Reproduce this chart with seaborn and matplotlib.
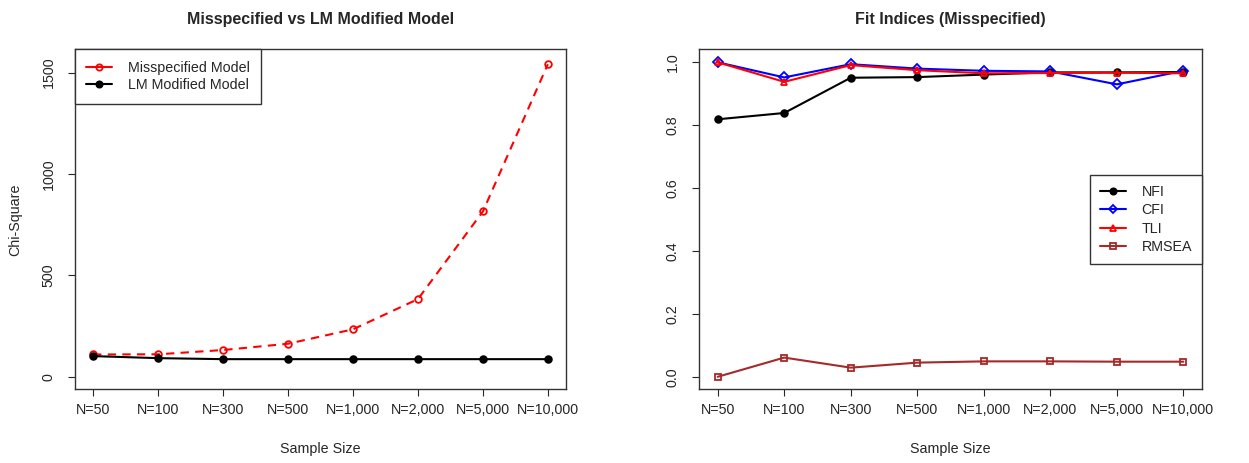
import pandas as pd
import seaborn as sns
import matplotlib
matplotlib.use("Agg")
import matplotlib.pyplot as plt

# sample sizes (categorical x axis)
sample_labels = ["N=50", "N=100", "N=300", "N=500", "N=1,000", "N=2,000", "N=5,000", "N=10,000"]

# chi-square values
chisq_misspecified = [110, 111, 132, 163, 234, 383, 815, 1541]
chisq_lm_modified = [102, 92, 87, 87, 87, 87, 87, 87]

# fit indices for the misspecified model
nfi = [0.818, 0.838, 0.950, 0.952, 0.960, 0.967, 0.967, 0.968]
cfi = [0.999, 0.951, 0.993, 0.979, 0.972, 0.970, 0.929, 0.972]
tli = [0.999, 0.937, 0.990, 0.974, 0.964, 0.965, 0.966, 0.964]
rmsea = [0.000, 0.061, 0.029, 0.045, 0.049, 0.049, 0.048, 0.048]


def style_axis(ax, title):
    for side in ['top', 'right', 'bottom', 'left']:
        ax.spines[side].set_visible(True)
        ax.spines[side].set_color('#333333')
        ax.spines[side].set_linewidth(1.0)
    ax.set_xticks(range(1, len(sample_labels) + 1))
    ax.set_xticklabels(sample_labels)
    ax.set_xlim(1 - 0.28, len(sample_labels) + 0.28)
    ax.tick_params(axis='x', length=5, width=0.8, pad=5, labelsize=10.3)
    ax.tick_params(axis='y', length=5, width=0.8, pad=9, labelsize=10.3)
    for lab in ax.get_yticklabels():
        lab.set_rotation(90)
        lab.set_va('center')
    ax.set_title(title, fontsize=11.5, fontweight='bold', pad=18)
    ax.set_xlabel('Sample Size', fontsize=10.3, labelpad=18)


def add_series(ax, values, label, color, marker, filled, dashed=False):
    x = list(range(1, len(values) + 1))
    df = pd.DataFrame({'x': x, 'y': values})
    kws = dict(color=color, marker=marker, markersize=4.8,
               markeredgecolor=color, markeredgewidth=1.3,
               linewidth=1.5, label=label)
    if not filled:
        kws['markerfacecolor'] = 'none'
    if dashed:
        kws['dashes'] = (4, 3)
    sns.lineplot(data=df, x='x', y='y', ax=ax, **kws)


def legend_handle(color, marker, filled):
    return plt.Line2D([], [], color=color, marker=marker, markersize=4.5,
                      markerfacecolor=color if filled else 'none',
                      markeredgewidth=1.3, linewidth=1.5)


sns.set_style('ticks')
plt.rcParams['font.family'] = ['Liberation Sans', 'DejaVu Sans']

fig = plt.figure(figsize=(12.49, 4.63), dpi=100)
ax1 = fig.add_axes([0.0600, 0.1590, 0.3932, 0.7343])
ax2 = fig.add_axes([0.5597, 0.1590, 0.4027, 0.7343])

# left panel
add_series(ax1, chisq_misspecified, 'Misspecified Model', '#FF0000', 'o', False, dashed=True)
add_series(ax1, chisq_lm_modified, 'LM Modified Model', '#000000', 'o', True)
ax1.set_ylim(-62, 1614)
ax1.set_yticks([0, 500, 1000, 1500])
ax1.set_ylabel('Chi-Square', fontsize=10.3, labelpad=14)
style_axis(ax1, 'Misspecified vs LM Modified Model')
handles = [legend_handle('#FF0000', 'o', False), legend_handle('#000000', 'o', True)]
leg = ax1.legend(handles, ['Misspecified Model', 'LM Modified Model'],
                 loc='upper left', borderaxespad=0, fancybox=False,
                 edgecolor='#333333', fontsize=10.3, handlelength=1.8,
                 handletextpad=1.1, labelspacing=0.25, borderpad=0.8,
                 framealpha=1)
leg.get_frame().set_linewidth(1.0)

# right panel
add_series(ax2, nfi, 'NFI', '#000000', 'o', True)
add_series(ax2, cfi, 'CFI', '#0000FF', 'D', False)
add_series(ax2, tli, 'TLI', '#FF0000', '^', False)
add_series(ax2, rmsea, 'RMSEA', '#A52A2A', 's', False)
ax2.set_ylim(-0.04, 1.04)
ax2.set_yticks([0.0, 0.2, 0.4, 0.6, 0.8, 1.0])
ax2.set_yticklabels(['0.0', '0.2', '0.4', '0.6', '0.8', '1.0'])
ax2.set_ylabel('')
style_axis(ax2, 'Fit Indices (Misspecified)')
handles = [legend_handle('#000000', 'o', True), legend_handle('#0000FF', 'D', False),
           legend_handle('#FF0000', '^', False), legend_handle('#A52A2A', 's', False)]
leg = ax2.legend(handles, ['NFI', 'CFI', 'TLI', 'RMSEA'],
                 loc='center right', borderaxespad=0, fancybox=False,
                 edgecolor='#333333', fontsize=10.3, handlelength=1.8,
                 handletextpad=1.1, labelspacing=0.3, borderpad=0.7,
                 framealpha=1)
leg.get_frame().set_linewidth(1.0)

fig.savefig('out.png', dpi=100)
